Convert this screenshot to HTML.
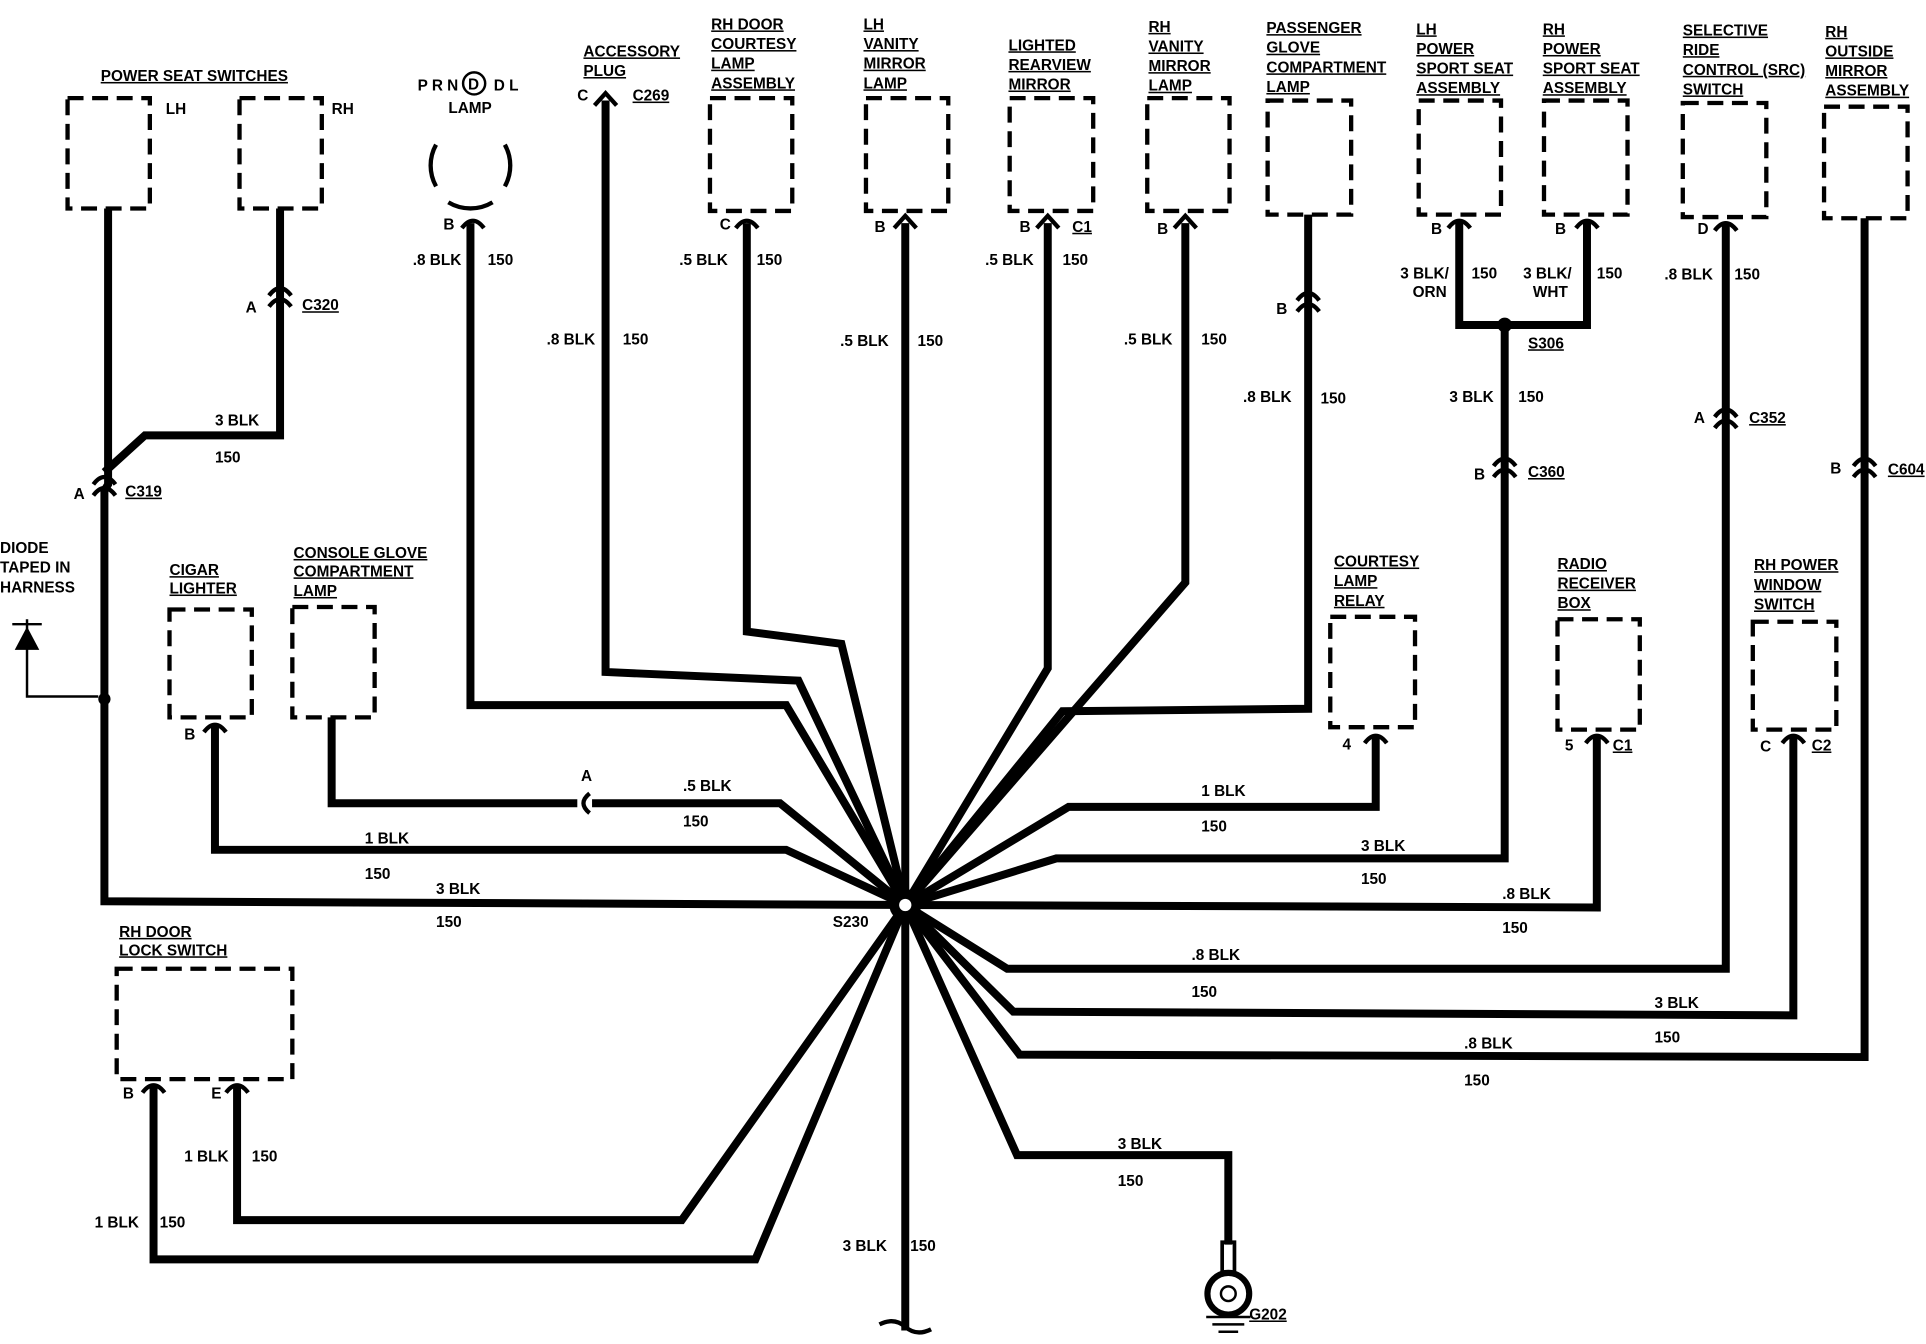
<!DOCTYPE html>
<html><head><meta charset="utf-8"><style>
html,body{margin:0;padding:0;background:#fff;}
svg{display:block;}
text{font-family:"Liberation Sans",sans-serif;font-weight:bold;font-size:12.5px;fill:#000;}
.w{fill:none;stroke:#000;stroke-width:6.5;stroke-linejoin:miter;}
.b{fill:none;stroke:#000;stroke-width:3.5;stroke-dasharray:13 7;}
.c{fill:none;stroke:#000;stroke-width:3.5;}
</style></head><body>
<svg width="1926" height="1344" viewBox="0 0 1568 1096" preserveAspectRatio="none" xmlns="http://www.w3.org/2000/svg">
<rect width="1568" height="1096" fill="#fff"/>
<rect class="b" x="55" y="80" width="67" height="90"/>
<rect class="b" x="195" y="80" width="67" height="90"/>
<rect class="b" x="578" y="80" width="67" height="92"/>
<rect class="b" x="705" y="80" width="67" height="92"/>
<rect class="b" x="822" y="80" width="68" height="92"/>
<rect class="b" x="934" y="80" width="67" height="92"/>
<rect class="b" x="1032" y="82" width="68" height="93"/>
<rect class="b" x="1155" y="82" width="67" height="93"/>
<rect class="b" x="1257" y="82" width="68" height="93"/>
<rect class="b" x="1370" y="84" width="68" height="93"/>
<rect class="b" x="1485" y="87" width="68" height="91"/>
<rect class="b" x="138" y="497" width="67" height="88"/>
<rect class="b" x="238" y="495" width="67" height="90"/>
<rect class="b" x="1083" y="503" width="69" height="90"/>
<rect class="b" x="1268" y="505" width="67" height="90"/>
<rect class="b" x="1427" y="507" width="68" height="88"/>
<rect class="b" x="95" y="790" width="143" height="90"/>
<path class="c" d="M355 118 A35 35 0 0 0 355 152 M411 118 A35 35 0 0 1 411 152 M365 165 A35 35 0 0 0 401 165"/>
<circle class="c" cx="386" cy="68" r="9" style="stroke-width:2"/>
<g class="w">
<path d="M88 170 L88 395 L85 400 L85 735 L737 738"/>
<path d="M228 170 L228 355 L118 355 L85 385"/>
<path d="M383 182 L383 575 L640 575 L737 738"/>
<path d="M493 82 L493 548 L650 555 L737 738"/>
<path d="M608 182 L608 515 L685 525 L737 738"/>
<path d="M737 182 L737 1085"/>
<path d="M853 182 L853 545 L737 738"/>
<path d="M965 182 L965 475 L737 738"/>
<path d="M1065 175 L1065 578 L865 580 L737 738"/>
<path d="M1188 180 L1188 265 L1292 265 L1292 180"/>
<path d="M1225 265 L1225 700 L860 700 L737 738"/>
<path d="M1405 182 L1405 790 L820 790 L737 738"/>
<path d="M1518 178 L1518 862 L830 860 L737 738"/>
<path d="M175 590 L175 693 L640 693 L737 738"/>
<path d="M270 585 L270 655 L470 655 M482 655 L635 655 L737 738"/>
<path d="M1120 600 L1120 658 L870 658 L737 738"/>
<path d="M1300 600 L1300 740 L737 738"/>
<path d="M1460 600 L1460 828 L825 825 L737 738"/>
<path d="M125 885 L125 1027 L615 1027 L737 738"/>
<path d="M193 885 L193 995 L555 995 L737 738"/>
<path d="M737 738 L828 942 L1000 942 L1000 1015"/>
</g>
<g class="c">
<path d="M376 186 Q385 174 394 186"/><path d="M599 186 Q608 174 617 186"/>
<path d="M1179 186 Q1188 174 1197 186"/><path d="M1283 186 Q1292 174 1301 186"/>
<path d="M1396 188 Q1405 176 1414 188"/><path d="M166 597 Q175 585 184 597"/>
<path d="M1111 606 Q1120 594 1129 606"/><path d="M1291 606 Q1300 594 1309 606"/>
<path d="M1451 606 Q1460 594 1469 606"/><path d="M116 891 Q125 879 134 891"/>
<path d="M184 891 Q193 879 202 891"/>
<path d="M219 241 Q228 229 237 241 M219 250 Q228 238 237 250"/>
<path d="M76 395 Q85 383 94 395 M76 404 Q85 392 94 404"/>
<path d="M1056 245 Q1065 233 1074 245 M1056 254 Q1065 242 1074 254"/>
<path d="M1216 380 Q1225 368 1234 380 M1216 389 Q1225 377 1234 389"/>
<path d="M1396 340 Q1405 328 1414 340 M1396 349 Q1405 337 1414 349"/>
<path d="M1509 380 Q1518 368 1527 380 M1509 389 Q1518 377 1527 389"/>
<path d="M480 647 Q470 655 480 663"/>
<path d="M728 186 L737 176 L746 186 M844 186 L853 176 L862 186 M956 186 L965 176 L974 186 M484 86 L493 76 L502 86"/>
<path d="M716 1080 Q728 1074 737 1082 Q746 1090 758 1084"/>
</g>
<circle cx="85" cy="570" r="5"/><circle cx="1225" cy="265" r="6"/>
<circle cx="737" cy="738" r="13" fill="#000"/><circle cx="737" cy="738" r="5" fill="#fff"/>
<path d="M10 509 L34 509 M22 505 L22 568 L80 568" class="c" style="stroke-width:2"/>
<path d="M12 530 L32 530 L22 511 Z" fill="#000"/>
<rect x="995" y="1013" width="10" height="25" fill="none" stroke="#000" stroke-width="3"/>
<circle cx="1000" cy="1055" r="17" class="c" style="stroke-width:5"/>
<circle cx="1000" cy="1055" r="6" fill="#fff" stroke="#000" stroke-width="2"/>
<path d="M982 1074 L1018 1074 M987 1080 L1013 1080 M992 1086 L1008 1086" class="c" style="stroke-width:2"/>
<g text-decoration="underline">
<text x="82" y="66">POWER SEAT SWITCHES</text>
<text x="475" y="46">ACCESSORY</text>
<text x="1017" y="1076">G202</text>
</g>
<text x="135" y="93">LH</text><text x="270" y="93">RH</text>
<text x="340" y="74">P R N</text><text x="402" y="74">D L</text><text x="381" y="73">D</text>
<text x="365" y="92">LAMP</text>
<text x="475" y="62" text-decoration="underline">PLUG</text><text x="470" y="82">C</text><text x="515" y="82" text-decoration="underline">C269</text>
<g text-decoration="underline">
<text x="579" y="24">RH DOOR</text><text x="579" y="40">COURTESY</text><text x="579" y="56">LAMP</text><text x="579" y="72">ASSEMBLY</text>
<text x="703" y="24">LH</text><text x="703" y="40">VANITY</text><text x="703" y="56">MIRROR</text><text x="703" y="72">LAMP</text>
<text x="821" y="41">LIGHTED</text><text x="821" y="57">REARVIEW</text><text x="821" y="73">MIRROR</text>
<text x="935" y="26">RH</text><text x="935" y="42">VANITY</text><text x="935" y="58">MIRROR</text><text x="935" y="74">LAMP</text>
<text x="1031" y="27">PASSENGER</text><text x="1031" y="43">GLOVE</text><text x="1031" y="59">COMPARTMENT</text><text x="1031" y="75">LAMP</text>
<text x="1153" y="28">LH</text><text x="1153" y="44">POWER</text><text x="1153" y="60">SPORT SEAT</text><text x="1153" y="76">ASSEMBLY</text>
<text x="1256" y="28">RH</text><text x="1256" y="44">POWER</text><text x="1256" y="60">SPORT SEAT</text><text x="1256" y="76">ASSEMBLY</text>
<text x="1370" y="29">SELECTIVE</text><text x="1370" y="45">RIDE</text><text x="1370" y="61">CONTROL (SRC)</text><text x="1370" y="77">SWITCH</text>
<text x="1486" y="30">RH</text><text x="1486" y="46">OUTSIDE</text><text x="1486" y="62">MIRROR</text><text x="1486" y="78">ASSEMBLY</text>
<text x="138" y="469">CIGAR</text><text x="138" y="484">LIGHTER</text>
<text x="239" y="455">CONSOLE GLOVE</text><text x="239" y="470">COMPARTMENT</text><text x="239" y="486">LAMP</text>
<text x="1086" y="462">COURTESY</text><text x="1086" y="478">LAMP</text><text x="1086" y="494">RELAY</text>
<text x="1268" y="464">RADIO</text><text x="1268" y="480">RECEIVER</text><text x="1268" y="496">BOX</text>
<text x="1428" y="465">RH POWER</text><text x="1428" y="481">WINDOW</text><text x="1428" y="497">SWITCH</text>
<text x="97" y="764">RH DOOR</text><text x="97" y="779">LOCK SWITCH</text>
<text x="246" y="253">C320</text><text x="102" y="405">C319</text><text x="1244" y="284">S306</text>
<text x="1244" y="389">C360</text><text x="1424" y="345">C352</text><text x="1537" y="387">C604</text>
<text x="873" y="189">C1</text><text x="1313" y="612">C1</text><text x="1475" y="612">C2</text>
</g>
<text x="0" y="451">DIODE</text><text x="0" y="467">TAPED IN</text><text x="0" y="483">HARNESS</text>
<text x="361" y="187">B</text><text x="586" y="187">C</text><text x="712" y="189">B</text><text x="830" y="189">B</text>
<text x="942" y="191">B</text><text x="1039" y="256">B</text><text x="1165" y="191">B</text><text x="1266" y="191">B</text>
<text x="1382" y="191">D</text><text x="200" y="255">A</text><text x="60" y="407">A</text><text x="1200" y="391">B</text>
<text x="1379" y="345">A</text><text x="1490" y="386">B</text><text x="150" y="603">B</text><text x="473" y="637">A</text>
<text x="1093" y="611">4</text><text x="1274" y="612">5</text><text x="1433" y="613">C</text>
<text x="100" y="896">B</text><text x="172" y="896">E</text><text x="678" y="756">S230</text>
<text x="175" y="347">3 BLK</text><text x="175" y="377">150</text>
<text x="336" y="216">.8 BLK</text><text x="397" y="216">150</text>
<text x="445" y="281">.8 BLK</text><text x="507" y="281">150</text>
<text x="553" y="216">.5 BLK</text><text x="616" y="216">150</text>
<text x="684" y="282">.5 BLK</text><text x="747" y="282">150</text>
<text x="802" y="216">.5 BLK</text><text x="865" y="216">150</text>
<text x="915" y="281">.5 BLK</text><text x="978" y="281">150</text>
<text x="1012" y="328">.8 BLK</text><text x="1075" y="329">150</text>
<text x="1140" y="227">3 BLK/</text><text x="1150" y="242">ORN</text><text x="1198" y="227">150</text>
<text x="1240" y="227">3 BLK/</text><text x="1248" y="242">WHT</text><text x="1300" y="227">150</text>
<text x="1180" y="328">3 BLK</text><text x="1236" y="328">150</text>
<text x="1355" y="228">.8 BLK</text><text x="1412" y="228">150</text>
<text x="556" y="645">.5 BLK</text><text x="556" y="674">150</text>
<text x="297" y="688">1 BLK</text><text x="297" y="717">150</text>
<text x="355" y="729">3 BLK</text><text x="355" y="756">150</text>
<text x="978" y="649">1 BLK</text><text x="978" y="678">150</text>
<text x="1108" y="694">3 BLK</text><text x="1108" y="721">150</text>
<text x="1223" y="733">.8 BLK</text><text x="1223" y="761">150</text>
<text x="970" y="783">.8 BLK</text><text x="970" y="813">150</text>
<text x="1347" y="822">3 BLK</text><text x="1347" y="850">150</text>
<text x="1192" y="855">.8 BLK</text><text x="1192" y="885">150</text>
<text x="910" y="937">3 BLK</text><text x="910" y="967">150</text>
<text x="150" y="947">1 BLK</text><text x="205" y="947">150</text>
<text x="77" y="1001">1 BLK</text><text x="130" y="1001">150</text>
<text x="686" y="1020">3 BLK</text><text x="741" y="1020">150</text>
</svg>
</body></html>
